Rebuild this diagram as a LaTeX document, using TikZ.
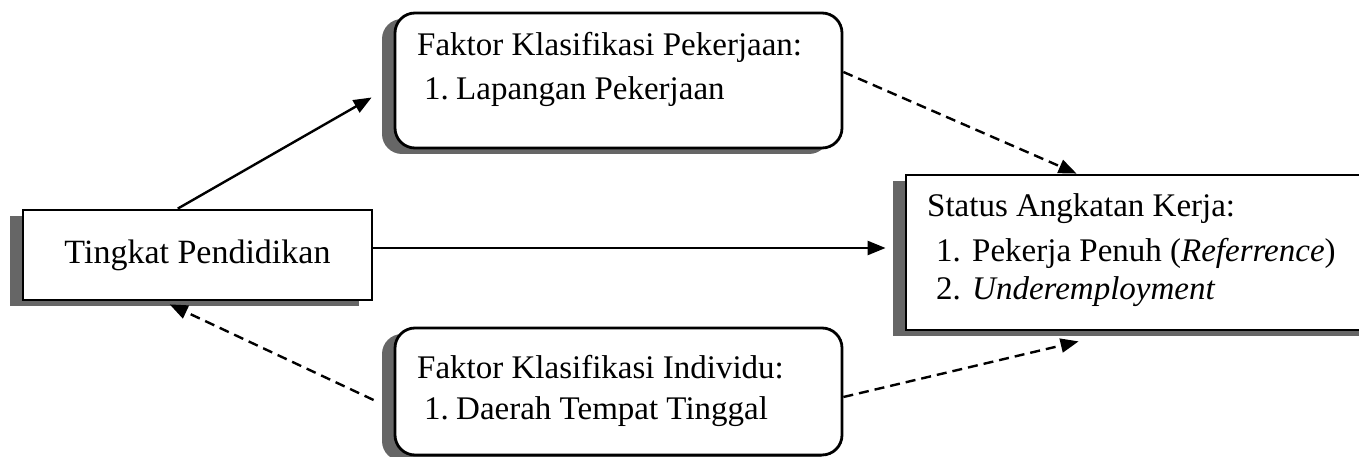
\documentclass[tikz,border=0pt]{standalone}
\usepackage{fontspec}
\setmainfont{Liberation Serif}
\usetikzlibrary{arrows.meta,shadows,calc}
\begin{document}
\begin{tikzpicture}[x=1pt,y=-1pt,
  boxbase/.style={draw=black,line width=2.8pt,fill=white,inner sep=0pt,
    drop shadow={shadow xshift=-13pt,shadow yshift=-6pt,fill=black!60,opacity=1}},
  sqbox/.style={boxbase},
  rbox/.style={boxbase,rounded corners=20pt},
  txt/.style={anchor=base west,inner sep=0pt,font=\fontsize{33}{40}\selectfont},
  link/.style={line width=2.4pt,-{Triangle[length=18pt,width=14pt]}},
  dlink/.style={link,dash pattern=on 10pt off 6pt},
]
\useasboundingbox (0,0) rectangle (1359,457);
\clip (0,0) rectangle (1359,457);

% boxes
\node[sqbox,minimum width=349pt,minimum height=90pt] (tp) at (197.5,255) {};
\node[rbox,minimum width=447pt,minimum height=135pt] (fk) at (618.5,80.5) {};
\node[rbox,minimum width=447pt,minimum height=127pt] (fi) at (618.5,391.5) {};
\node[sqbox,minimum width=470pt,minimum height=155pt] (st) at (1141,252.5) {};

% texts
\node[inner sep=0pt,font=\fontsize{34}{40}\selectfont] (tpl) at (tp.center) {Tingkat Pendidikan};

\node[txt] (fkh) at (417,56) {Faktor Klasifikasi Pekerjaan:};
\node[txt] (fkn) at (424,100) {1.};
\node[txt] (fki) at (456,100) {Lapangan Pekerjaan};

\node[txt] (fih) at (417,378) {Faktor Klasifikasi Individu:};
\node[txt] (fin) at (424,419) {1.};
\node[txt] (fii) at (456,419) {Daerah Tempat Tinggal};

\node[txt] (sth) at (927,216) {Status Angkatan Kerja:};
\node[txt] (stn1) at (936,261) {1.};
\node[txt] (sti1) at (972,261) {Pekerja Penuh (\textit{Referrence})};
\node[txt] (stn2) at (936,299) {2.};
\node[txt] (sti2) at (972,299) {\textit{Underemployment}};

% connectors
\draw[link] ($(tp.north west)!0.444!(tp.north east)$) -- ($(fk.west)+(-22,17)$);
\draw[link] ($(tp.east)+(0,-7)$) -- ($(st.west)+(-19,-4.5)$);
\draw[dlink] ($(fk.east)+(0,-8.5)$) -- ($(st.north west)+(172,0)$);
\draw[dlink] ($(fi.west)+(-20,8.5)$) -- ($(tp.south west)!0.421!(tp.south east)+(0,3)$);
\draw[dlink] ($(fi.east)+(0,5.5)$) -- ($(st.south west)+(174,10)$);
\end{tikzpicture}
\end{document}
